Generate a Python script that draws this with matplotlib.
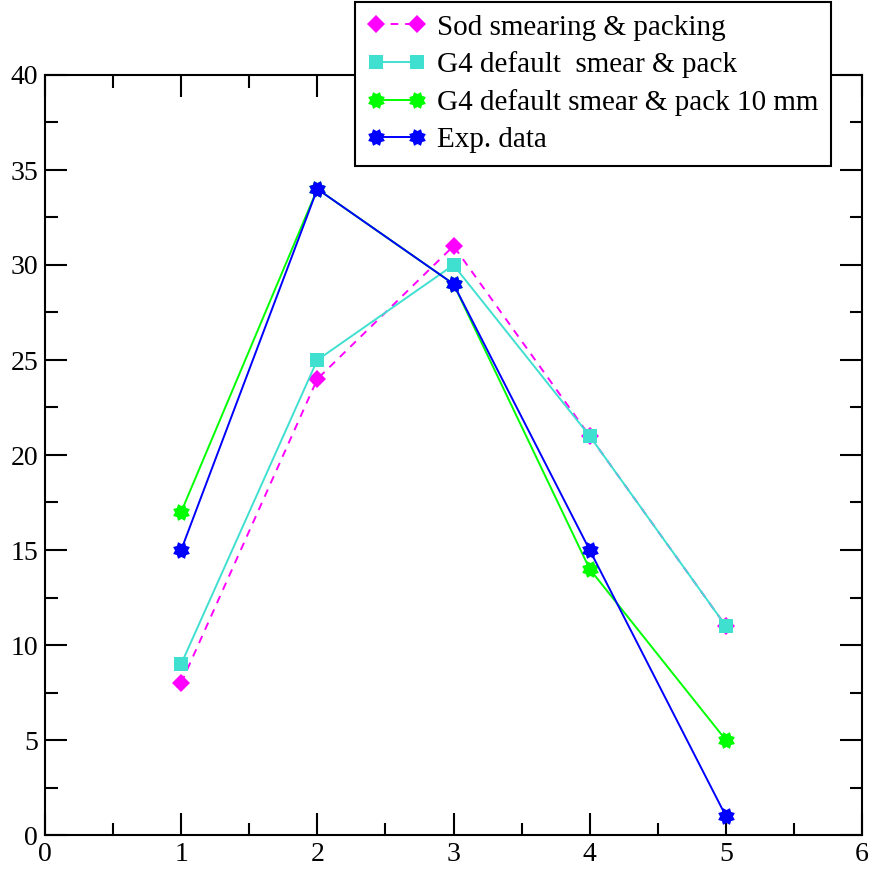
import matplotlib
matplotlib.use("Agg")
import numpy as np
import matplotlib.pyplot as plt
from matplotlib.path import Path
from matplotlib.ticker import MultipleLocator

plt.rcParams['font.family'] = ['Liberation Serif', 'DejaVu Serif']

x = [1, 2, 3, 4, 5]
sod = [8, 24, 31, 21, 11]
g4_default = [9, 25, 30, 21, 11]
g4_10mm = [17, 34, 29, 14, 5]
exp_data = [15, 34, 29, 15, 1]

labels = ["Sod smearing & packing", "G4 default  smear & pack",
          "G4 default smear & pack 10 mm", "Exp. data"]

# fat 8-pointed star like the xmgrace marker
ang = np.linspace(0, 2 * np.pi, 17)[:-1] + np.pi / 8
rad = np.where(np.arange(16) % 2 == 0, 1.0, 0.72)
verts = np.column_stack([rad * np.cos(ang), rad * np.sin(ang)])
verts = np.vstack([verts, verts[:1]])
codes = [Path.MOVETO] + [Path.LINETO] * 15 + [Path.CLOSEPOLY]
star = Path(verts, codes)

fig = plt.figure(figsize=(8.69, 8.71), dpi=100)
ax = fig.add_axes([45 / 869, 36 / 871, 817 / 869, 760 / 871])

ax.plot(x, sod, color='#ff00ff', ls=(0, (4, 3.5)), lw=1.4, marker='D', ms=9, mew=0, label=labels[0])
ax.plot(x, g4_default, color='#40e0d0', lw=1.4, marker='s', ms=10, mew=0, label=labels[1])
ax.plot(x, g4_10mm, color='#00ff00', lw=1.4, marker=star, ms=12, mew=0, label=labels[2])
ax.plot(x, exp_data, color='#0000ff', lw=1.4, marker=star, ms=12, mew=0, label=labels[3])

ax.set_xlim(0, 6)
ax.set_ylim(0, 40)
ax.xaxis.set_major_locator(MultipleLocator(1))
ax.xaxis.set_minor_locator(MultipleLocator(0.5))
ax.yaxis.set_major_locator(MultipleLocator(5))
ax.yaxis.set_minor_locator(MultipleLocator(2.5))
ax.tick_params(which='both', direction='in', top=True, right=True, width=1.5, labelsize=20)
ax.tick_params(which='major', length=16, pad=5)
ax.tick_params(which='minor', length=9)
for s in ax.spines.values():
    s.set_linewidth(1.5)

leg = ax.legend(loc='upper left', bbox_to_anchor=(355 / 869, 1 - 2 / 871),
                bbox_transform=fig.transFigure, numpoints=2, fontsize=21,
                fancybox=False, framealpha=1, edgecolor='black',
                handlelength=2.0, handletextpad=0.4, labelspacing=0.37,
                borderpad=0.42, borderaxespad=0)
leg.get_frame().set_linewidth(1.5)

fig.savefig("out.png", dpi=100)
